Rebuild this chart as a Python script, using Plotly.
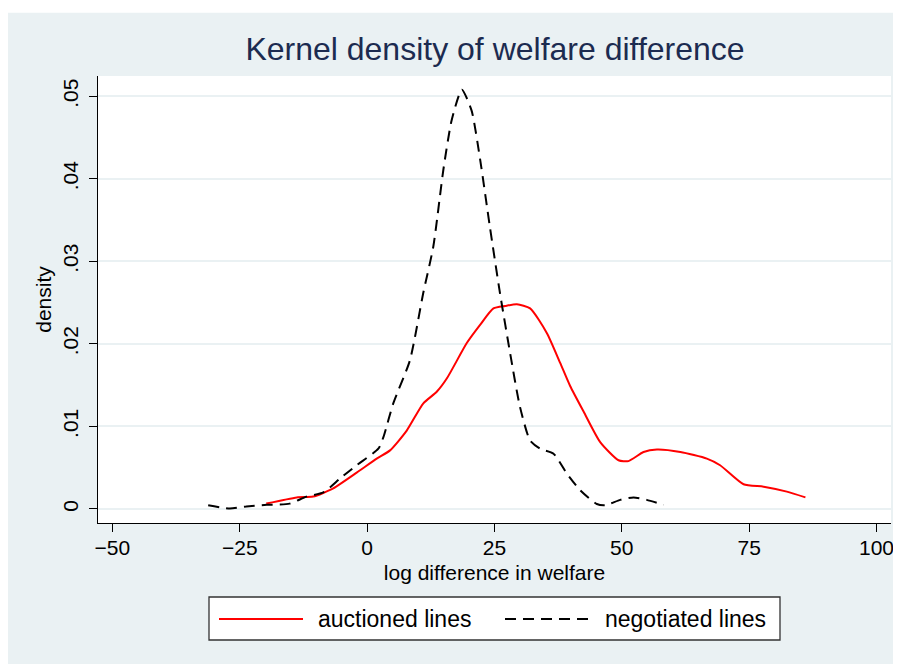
import plotly.graph_objects as go

# kernel density estimates
auctioned_x = [-19.8, -13.8, -10.6, -6.65, -2.05, 1.88, 4.5, 7.78, 11.04, 13.67, 15.64, 19.57,
               22.18, 24.8, 27.1, 29.4, 32.0, 35.3, 37.9, 39.86, 42.5, 45.76, 49.36, 51.3,
               54.27, 56.9, 61.5, 66.7, 69.3, 73.9, 77.85, 82.4, 86.05]
auctioned_y = [0.00065, 0.0014, 0.0015, 0.0025, 0.0044, 0.0061, 0.0071, 0.0095, 0.0128, 0.0142,
               0.0158, 0.0201, 0.0223, 0.0243, 0.0246, 0.0248, 0.0243, 0.0213, 0.0177, 0.0149,
               0.0118, 0.0081, 0.0059, 0.0058, 0.0069, 0.0072, 0.0069, 0.0061, 0.0053, 0.0030,
               0.0027, 0.0021, 0.0014]

negotiated_x = [-31.2, -26.95, -23.7, -19.7, -15.2, -11.9, -8.6, -5.3, -2.05, 2.2, 3.2, 5.14,
                8.4, 11.0, 13.0, 14.97, 16.6, 18.6, 20.5, 22.2, 24.1, 26.1, 28.1, 30.0, 32.0,
                34.0, 36.6, 39.2, 41.8, 45.1, 46.7, 49.7, 52.3, 54.9, 58.2]
negotiated_y = [0.00045, 0.00005, 0.0003, 0.0005, 0.00065, 0.0015, 0.0020, 0.0037, 0.0053, 0.0073,
                0.0087, 0.0128, 0.0180, 0.0261, 0.0318, 0.0411, 0.0471, 0.0508, 0.0483, 0.0423,
                0.0342, 0.0261, 0.0188, 0.0124, 0.0083, 0.0073, 0.0067, 0.0043, 0.0023, 0.0006,
                0.00045, 0.0011, 0.0014, 0.0011, 0.0005]

x_ticks = [-50, -25, 0, 25, 50, 75, 100]
x_labels = ["\u221250", "\u221225", "0", "25", "50", "75", "100"]
y_ticks = [0, 0.01, 0.02, 0.03, 0.04, 0.05]
y_labels = ["0", ".01", ".02", ".03", ".04", ".05"]
series_names = ["auctioned lines", "negotiated lines"]

W, H = 901, 664
OFF = 8  # page body margin in front of the figure
L, R, T, B = 90, 18, 68, 149
BG = "#EAF1F3"
FONT = "Liberation Sans"
DASH = "11px,7px"


# helpers: page pixel -> paper coordinate
def px_x(p):
    return (p - OFF - L) / (W - L - R)


def px_y(p):
    return (H - B - (p - OFF)) / (H - T - B)


fig = go.Figure()
fig.add_trace(go.Scatter(x=auctioned_x, y=auctioned_y, mode="lines", name=series_names[0],
                         line=dict(color="#FF0000", width=2, shape="spline", smoothing=0.6),
                         showlegend=False))
fig.add_trace(go.Scatter(x=negotiated_x, y=negotiated_y, mode="lines", name=series_names[1],
                         line=dict(color="black", width=2, dash=DASH, shape="spline", smoothing=0.6),
                         showlegend=False))

shapes = [
    # thin white band above the graph region
    dict(type="rect", xref="paper", yref="paper", x0=px_x(0), x1=px_x(W + OFF), y0=px_y(12.7), y1=px_y(0),
         fillcolor="white", line_width=0, layer="above"),
    # legend box
    dict(type="rect", xref="paper", yref="paper", x0=px_x(209), x1=px_x(780), y0=px_y(640), y1=px_y(597),
         fillcolor="white", line=dict(color="#333333", width=1.3)),
    dict(type="line", xref="paper", yref="paper", x0=px_x(219), x1=px_x(303), y0=px_y(619), y1=px_y(619),
         line=dict(color="#FF0000", width=2)),
    dict(type="line", xref="paper", yref="paper", x0=px_x(505), x1=px_x(590), y0=px_y(619), y1=px_y(619),
         line=dict(color="black", width=2, dash=DASH)),
]

annotations = [
    dict(text=series_names[0], xref="paper", yref="paper", x=px_x(316), y=px_y(619),
         xanchor="left", yanchor="middle", showarrow=False, font=dict(size=23, color="black", family=FONT)),
    dict(text=series_names[1], xref="paper", yref="paper", x=px_x(603), y=px_y(619),
         xanchor="left", yanchor="middle", showarrow=False, font=dict(size=23, color="black", family=FONT)),
]

fig.update_layout(
    width=W, height=H,
    margin=dict(l=L, r=R, t=T, b=B),
    paper_bgcolor=BG,
    plot_bgcolor="white",
    font=dict(family=FONT, color="black"),
    title=dict(text="Kernel density of welfare difference", x=px_x(495), xref="paper",
               y=1 - (49 - OFF) / H, yref="container", xanchor="center", yanchor="middle",
               font=dict(size=32, color="#1C2B50", family=FONT)),
    shapes=shapes,
    annotations=annotations,
    showlegend=False,
)

fig.update_xaxes(
    range=[-52.83, 102.85], tickvals=x_ticks, ticktext=x_labels,
    showgrid=False, zeroline=False, showline=True, linecolor="black", linewidth=1.3,
    ticks="outside", ticklen=8, tickwidth=1.3, tickcolor="black",
    tickfont=dict(size=21, color="black"), ticklabelstandoff=-2,
    title=dict(text="log difference in welfare", font=dict(size=21, color="black"), standoff=6),
)
fig.update_yaxes(
    range=[-0.0017, 0.05246], tickvals=y_ticks, ticktext=y_labels, tickangle=-90,
    showgrid=True, gridcolor=BG, gridwidth=1.5, zeroline=False,
    showline=True, linecolor="black", linewidth=1.3,
    ticks="outside", ticklen=8, tickwidth=1.3, tickcolor="black",
    tickfont=dict(size=21, color="black"), ticklabelstandoff=2,
    title=dict(text="density", font=dict(size=21, color="black"), standoff=2),
)

fig.write_html("out.html")
